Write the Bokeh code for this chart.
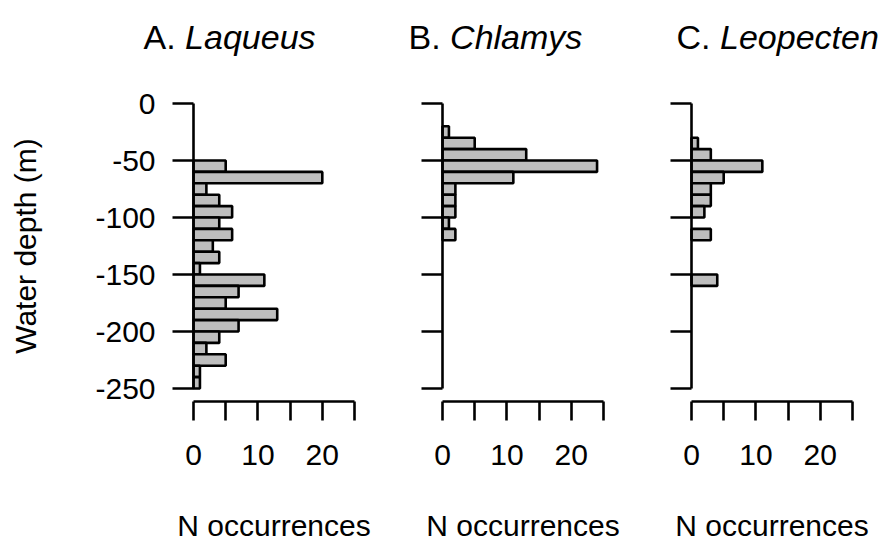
from bokeh.plotting import figure
from bokeh.layouts import row
from bokeh.models import Range1d, FixedTicker, Label, ColumnDataSource, LinearAxis
from bokeh.embed import file_html
from bokeh.resources import INLINE

# Depth bins (upper edge of each 10 m bin, in metres)
bin_top = [-20, -30, -40, -50, -60, -70, -80, -90, -100, -110, -120, -130,
           -140, -150, -160, -170, -180, -190, -200, -210, -220, -230, -240]
bin_width = 10

# Number of occurrences per depth bin for each genus
laqueus = [0, 0, 0, 5, 20, 2, 4, 6, 4, 6, 3, 4, 1, 11, 7, 5, 13, 7, 4, 2, 5, 1, 1]
chlamys = [1, 5, 13, 24, 11, 2, 2, 2, 1, 2, 0, 0, 0, 0, 0, 0, 0, 0, 0, 0, 0, 0, 0]
leopecten = [0, 1, 3, 11, 5, 3, 3, 2, 0, 3, 0, 0, 0, 4, 0, 0, 0, 0, 0, 0, 0, 0, 0]

panel_letters = ["A.", "B.", "C."]
genera = ["Laqueus", "Chlamys", "Leopecten"]
series = [laqueus, chlamys, leopecten]

depth_ticks = [0, -50, -100, -150, -200, -250]
count_ticks = [0, 10, 20]
count_minor = [5, 15, 25]

FONT = "Liberation Sans"
BAR_FILL = "#bebebe"
LW = 2.6
TXT = "30px"

H = 548
PX_PER_N = 161 / 25     # horizontal scale, px per occurrence
PX_PER_M = 1.14         # vertical scale, px per metre
ZERO_Y = 103            # pixel row of the 0 m tick
XAXIS_Y = 401           # pixel row of the count axis
TITLE_BASE = 36         # pixel row of the title baseline

# panel layout: canvas width, pixel column of the depth axis,
# title start (px from the depth axis) and width of the upright prefix
layout = [
    dict(width=382, origin=193, tx=-50, prefix_w=41.6),
    dict(width=249, origin=60, tx=-34, prefix_w=41.6),
    dict(width=252, origin=60, tx=-15, prefix_w=43.5),
]

figs = []
for i, (letter, genus, counts, lay) in enumerate(zip(panel_letters, genera, series, layout)):
    mids = [t - bin_width / 2 for t, c in zip(bin_top, counts) if c > 0]
    vals = [c for c in counts if c > 0]
    src = ColumnDataSource(dict(y=mids, right=vals))

    W = lay["width"]
    p = figure(width=W, height=H,
               x_range=Range1d(-lay["origin"] / PX_PER_N, (W - lay["origin"]) / PX_PER_N),
               y_range=Range1d(-(H - ZERO_Y) / PX_PER_M, ZERO_Y / PX_PER_M),
               x_axis_location=None, y_axis_location=None,
               min_border=0, output_backend="svg", toolbar_location=None)
    p.outline_line_color = None
    p.grid.visible = False

    p.hbar(y="y", left=0, right="right", height=bin_width, source=src,
           fill_color=BAR_FILL, line_color="black", line_width=LW)

    # depth axis, drawn at zero occurrences
    ya = LinearAxis(fixed_location=0)
    ya.ticker = FixedTicker(ticks=depth_ticks)
    ya.bounds = (-250, 0)
    ya.axis_line_width = LW
    ya.major_tick_line_width = LW
    ya.major_tick_out = 21
    ya.major_tick_in = 0
    ya.minor_tick_line_color = None
    ya.major_label_text_font = FONT
    ya.major_label_text_font_size = TXT
    ya.major_label_text_color = "black"
    ya.major_label_standoff = 17
    if i == 0:
        ya.major_label_overrides = {t: str(t) for t in depth_ticks}
        ya.axis_label = "Water depth (m)"
        ya.axis_label_text_font = FONT
        ya.axis_label_text_font_size = TXT
        ya.axis_label_text_font_style = "normal"
        ya.axis_label_text_color = "black"
        ya.axis_label_standoff = 50
    else:
        ya.major_label_overrides = {t: "" for t in depth_ticks}
    p.add_layout(ya, "left")

    # count axis, set a little below the deepest bin
    xa = LinearAxis(fixed_location=-(XAXIS_Y - ZERO_Y) / PX_PER_M)
    xa.ticker = FixedTicker(ticks=count_ticks, minor_ticks=count_minor)
    xa.bounds = (0, 25)
    xa.axis_line_width = LW
    xa.major_tick_line_width = LW
    xa.minor_tick_line_width = LW
    xa.minor_tick_line_color = "black"
    xa.major_tick_out = 19
    xa.major_tick_in = 0
    xa.minor_tick_out = 19
    xa.minor_tick_in = 0
    xa.major_label_text_font = FONT
    xa.major_label_text_font_size = TXT
    xa.major_label_text_color = "black"
    xa.major_label_standoff = 24
    xa.axis_label = "N occurrences"
    xa.axis_label_text_font = FONT
    xa.axis_label_text_font_size = TXT
    xa.axis_label_text_font_style = "normal"
    xa.axis_label_text_color = "black"
    xa.axis_label_standoff = 41
    p.add_layout(xa, "below")

    # panel heading: upright letter followed by the italic genus name
    ty = (ZERO_Y - TITLE_BASE) / PX_PER_M
    p.add_layout(Label(x=lay["tx"] / PX_PER_N, y=ty,
                       text=letter, text_font=FONT, text_font_size="34px",
                       text_color="black", text_baseline="alphabetic"))
    p.add_layout(Label(x=(lay["tx"] + lay["prefix_w"]) / PX_PER_N, y=ty,
                       text=genus, text_font=FONT, text_font_size="34px",
                       text_font_style="italic", text_color="black",
                       text_baseline="alphabetic"))
    figs.append(p)

page = row(*figs, spacing=0)
open("out.html", "w").write(file_html(page, INLINE))
